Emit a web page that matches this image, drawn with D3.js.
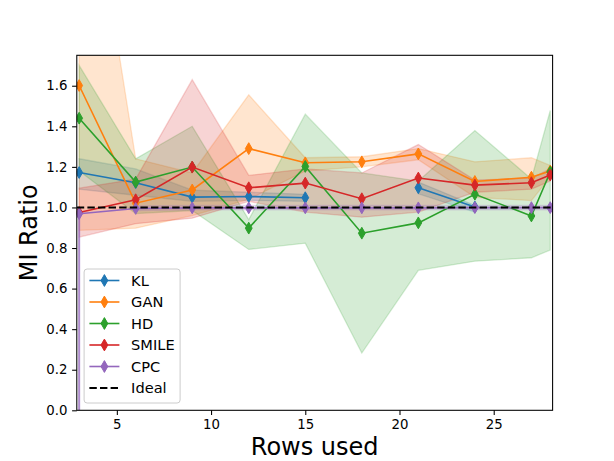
<!DOCTYPE html>
<html>
<head>
<meta charset="utf-8">
<script src="https://cdn.jsdelivr.net/npm/d3@7"></script>
<style>
  body { margin: 0; background: white; }
  text { font-family: "DejaVu Sans", sans-serif; fill: black; }
</style>
</head>
<body>
<svg id="chart"></svg>
<script>
// rows used
var rows = [3, 6, 9, 12, 15, 18, 21, 24, 27, 28]

// mean MI ratio and band per estimator (NaN = missing)
var klMean  = [1.172, 1.122, 1.051, 1.054, 1.048, NaN, 1.097, 1.002, NaN, NaN]
var klLow   = [1.09, 1.06, 1.03, 1.035, 1.03, NaN, 1.067, 0.977, NaN, NaN]
var klHigh  = [1.24, 1.19, 1.085, 1.075, 1.065, NaN, 1.125, 1.01, NaN, NaN]

var ganMean = [1.601, 1.021, 1.086, 1.29, 1.22, 1.225, 1.264, 1.128, 1.149, 1.18]
var ganLow  = [0.887, 0.898, 0.96, 1.04, 1.18, 1.2, 1.235, 1.05, 1.034, 1.15]
var ganHigh = [3.0, 1.24, 1.17, 1.555, 1.245, 1.25, 1.29, 1.225, 1.245, 1.207]

var hdMean  = [1.44, 1.125, 1.199, 0.898, 1.202, 0.873, 0.924, 1.065, 0.958, 1.175]
var hdLow   = [1.18, 0.97, 0.985, 0.793, 0.824, 0.282, 0.69, 0.735, 0.752, 0.79]
var hdHigh  = [1.70, 1.24, 1.40, 0.94, 1.46, 1.17, 1.13, 1.379, 1.14, 1.478]

var smileMean = [0.975, 1.038, 1.199, 1.097, 1.12, 1.043, 1.145, 1.11, 1.122, 1.16]
var smileLow  = [0.854, 0.92, 0.947, 1.03, 0.977, 0.952, 0.977, 1.075, 1.09, 1.13]
var smileHigh = [1.095, 1.14, 1.63, 1.158, 1.19, 1.17, 1.31, 1.135, 1.145, 1.19]

var cpcMean = [0.969, 0.995, 0.998, 0.998, 0.998, 0.998, 0.998, 0.999, 0.999, 0.999]
var cpcLow  = [-Infinity, 0.985, 0.988, 0.988, 0.988, 0.988, 0.988, 0.988, 0.988, 0.988]
var cpcHigh = [0.99, 1.008, 1.01, 1.01, 1.01, 1.01, 1.01, 1.01, 1.01, 1.01]

var idealValue = 1.0

var xTicks = [5, 10, 15, 20, 25]
var yTicks = [0.0, 0.2, 0.4, 0.6, 0.8, 1.0, 1.2, 1.4, 1.6]

var series = [
  { name: "KL", color: "#1f77b4", mean: klMean, low: klLow, high: klHigh },
  { name: "GAN", color: "#ff7f0e", mean: ganMean, low: ganLow, high: ganHigh },
  { name: "HD", color: "#2ca02c", mean: hdMean, low: hdLow, high: hdHigh },
  { name: "SMILE", color: "#d62728", mean: smileMean, low: smileLow, high: smileHigh },
  { name: "CPC", color: "#9467bd", mean: cpcMean, low: cpcLow, high: cpcHigh }
]

var dimensions = {
  width: 614,
  height: 461,
  margin: {
    top: 55.3,
    bottom: 50.7,
    right: 61.4,
    left: 76.8
  }
}

var svg = d3.select("#chart")
  .attr("width", dimensions.width)
  .attr("height", dimensions.height)

var xScale = d3.scaleLinear()
  .domain([2.875, 28.125])
  .range([dimensions.margin.left, dimensions.width - dimensions.margin.right])

var yScale = d3.scaleLinear()
  .domain([0, 1.75])
  .range([dimensions.height - dimensions.margin.bottom, dimensions.margin.top])

svg.append("clipPath")
  .attr("id", "plotClip")
  .append("rect")
  .attr("x", xScale.range()[0])
  .attr("y", yScale.range()[1])
  .attr("width", xScale.range()[1] - xScale.range()[0])
  .attr("height", yScale.range()[0] - yScale.range()[1])

var plot = svg.append("g").attr("clip-path", "url(#plotClip)")

// bands
var area = d3.area()
  .defined(d => isFinite(d.lo) && isFinite(d.hi))
  .x(d => xScale(d.x))
  .y0(d => yScale(d.lo))
  .y1(d => yScale(d.hi))

series.forEach(function (s) {
  var pts = rows.map((x, i) => ({ x: x, lo: s.low[i], hi: s.high[i] }))
  plot.append("path")
    .datum(pts)
    .attr("d", area)
    .attr("fill", s.color)
    .attr("fill-opacity", 0.2)
    .attr("stroke", s.color)
    .attr("stroke-opacity", 0.2)
    .attr("stroke-width", 1.3)

  // a band that runs off to minus infinity shows as a thin vertical streak
  pts.filter(d => !isFinite(d.lo) && isFinite(d.hi)).forEach(function (d) {
    plot.append("line")
      .attr("x1", xScale(d.x)).attr("x2", xScale(d.x))
      .attr("y1", yScale(d.hi)).attr("y2", yScale.range()[0])
      .attr("stroke", s.color)
      .attr("stroke-opacity", 0.75)
      .attr("stroke-width", 2)
  })
})

// lines and diamond markers
var line = d3.line()
  .defined(d => isFinite(d.y))
  .x(d => xScale(d.x))
  .y(d => yScale(d.y))

var diamond = "M0,-5.9L3.4,0L0,5.9L-3.4,0Z"

series.forEach(function (s) {
  var pts = rows.map((x, i) => ({ x: x, y: s.mean[i] }))
  plot.append("path")
    .datum(pts)
    .attr("d", line)
    .attr("fill", "none")
    .attr("stroke", s.color)
    .attr("stroke-width", 1.6)

  plot.append("g")
    .selectAll("path")
    .data(pts.filter(d => isFinite(d.y)))
    .enter().append("path")
    .attr("d", diamond)
    .attr("transform", d => `translate(${xScale(d.x)},${yScale(d.y)})`)
    .attr("fill", s.color)
    .attr("stroke", s.color)
    .attr("stroke-width", 1)
})

// ideal line
plot.append("line")
  .attr("x1", xScale.range()[0])
  .attr("x2", xScale.range()[1])
  .attr("y1", yScale(idealValue))
  .attr("y2", yScale(idealValue))
  .attr("stroke", "black")
  .attr("stroke-width", 2)
  .attr("stroke-dasharray", "7.4,3.2")

// axes
var xAxisGen = d3.axisBottom(xScale).tickValues(xTicks).tickSize(4.7).tickPadding(4.7).tickFormat(d3.format("d"))
var xAxis = svg.append("g")
  .attr("transform", `translate(0,${yScale.range()[0]})`)
  .call(xAxisGen)

var yAxisGen = d3.axisLeft(yScale).tickValues(yTicks).tickSize(4.7).tickPadding(4.7).tickFormat(d3.format(".1f"))
var yAxis = svg.append("g")
  .attr("transform", `translate(${xScale.range()[0]},0)`)
  .call(yAxisGen)

svg.selectAll(".tick text")
  .style("font-family", "DejaVu Sans")
  .style("font-size", "13.3px")
svg.selectAll(".tick line").attr("stroke-width", 1.07)
svg.selectAll(".domain").remove()

svg.append("rect")
  .attr("x", xScale.range()[0])
  .attr("y", yScale.range()[1])
  .attr("width", xScale.range()[1] - xScale.range()[0])
  .attr("height", yScale.range()[0] - yScale.range()[1])
  .attr("fill", "none")
  .attr("stroke", "black")
  .attr("stroke-width", 1.07)

svg.append("text")
  .attr("x", (xScale.range()[0] + xScale.range()[1]) / 2)
  .attr("y", 455)
  .attr("text-anchor", "middle")
  .style("font-size", "24px")
  .text("Rows used")

svg.append("text")
  .attr("transform", `translate(37,${(yScale.range()[0] + yScale.range()[1]) / 2}) rotate(-90)`)
  .attr("text-anchor", "middle")
  .style("font-size", "24px")
  .text("MI Ratio")

// legend
var legendItems = series.map(s => ({ name: s.name, color: s.color, dashed: false }))
  .concat([{ name: "Ideal", color: "black", dashed: true }])

var rowHeight = 21.5
var legendBox = {
  x: xScale.range()[0] + 7.3,
  width: 96,
  height: legendItems.length * rowHeight + 5
}
legendBox.y = yScale.range()[0] - 7.3 - legendBox.height

var legend = svg.append("g")
  .attr("transform", `translate(${legendBox.x},${legendBox.y})`)

legend.append("rect")
  .attr("width", legendBox.width)
  .attr("height", legendBox.height)
  .attr("rx", 3)
  .attr("fill", "white")
  .attr("fill-opacity", 0.8)
  .attr("stroke", "#cccccc")
  .attr("stroke-width", 1)

var entry = legend.selectAll(".entry")
  .data(legendItems)
  .enter().append("g")
  .attr("transform", (d, i) => `translate(0,${11.5 + i * rowHeight})`)

entry.append("line")
  .attr("x1", 5.3).attr("x2", 35.3)
  .attr("stroke", d => d.color)
  .attr("stroke-width", d => d.dashed ? 2 : 1.6)
  .attr("stroke-dasharray", d => d.dashed ? "7.4,3.2" : null)

entry.filter(d => !d.dashed).append("path")
  .attr("d", diamond)
  .attr("transform", "translate(20.3,0)")
  .attr("fill", d => d.color)
  .attr("stroke", d => d.color)

entry.append("text")
  .attr("x", 47)
  .attr("dy", "0.36em")
  .style("font-size", "14.6px")
  .text(d => d.name)
</script>
</body>
</html>
